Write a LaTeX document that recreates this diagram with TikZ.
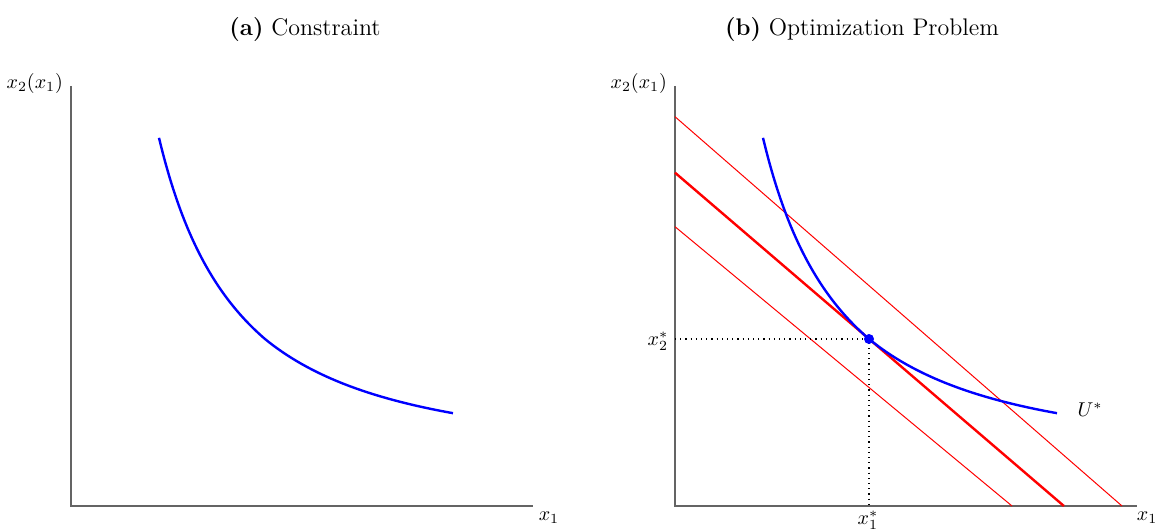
\documentclass[tikz,border=0pt]{standalone}
\usepackage{amsmath}
\usepackage{tikz}
\usepackage{xcolor}
\definecolor{axisgray}{RGB}{100,100,100}
\definecolor{utilblue}{RGB}{0,0,255}
\definecolor{budgetred}{RGB}{255,0,0}

\begin{document}
\begin{tikzpicture}[x=0.5pt, y=0.5pt]
\useasboundingbox (0,0) rectangle (1159,530);

% Panel titles
\node[font=\large] (titleA) at (305,500) {\textbf{(a)} Constraint};
\node[font=\large] (titleB) at (862,500) {\textbf{(b)} Optimization Problem};

% Left panel
\begin{scope}[shift={(71,24)}]
\coordinate (originA) at (0,0);
\coordinate (xendA) at (462,0);
\coordinate (yendA) at (0,420);
\draw[axisgray, line width=0.8pt] (yendA) -- (originA) -- (xendA);
\node[anchor=east] (ylabA) at (-1,422) {$x_2(x_1)$};
\node (xlabA) at (478,-12) {$x_1$};

% Indifference curve
\draw[utilblue, line width=1.2pt, samples=60]
  plot[domain=88:194] (\x,{323.98/(\x/100)})
  -- plot[domain=194:382] (\x,{323.98/(\x/100)+0.0426*(\x-194)});
\end{scope}

% Right panel
\begin{scope}[shift={(675,24)}]
\coordinate (originB) at (0,0);
\coordinate (xendB) at (462,0);
\coordinate (yendB) at (0,420);
\draw[axisgray, line width=0.8pt] (yendB) -- (originB) -- (xendB);
\node[anchor=east] (ylabB) at (-1,422) {$x_2(x_1)$};
\node (xlabB) at (472,-12) {$x_1$};

% Budget lines
\coordinate (upperA) at (0,389.3);
\coordinate (upperB) at (447,0);
\coordinate (midA) at (0,333.3);
\coordinate (midB) at (388.9,0);
\coordinate (lowerA) at (0,279.3);
\coordinate (lowerB) at (337,0);
\draw[budgetred, line width=0.5pt] (upperA) -- (upperB);
\draw[budgetred, line width=0.5pt] (lowerA) -- (lowerB);
\draw[budgetred, line width=1.2pt] (midA) -- (midB);

% Indifference curve
\draw[utilblue, line width=1.2pt, samples=60]
  plot[domain=88:194] (\x,{323.98/(\x/100)})
  -- plot[domain=194:382] (\x,{323.98/(\x/100)+0.0426*(\x-194)});
\node (ulab) at (415,96) {$U^{*}$};

% Optimum
\coordinate (opt) at (194,167);
\coordinate (xstar) at (194,0);
\coordinate (ystar) at (0,167);
\draw[dotted, line width=0.6pt] (ystar) -- (opt) -- (xstar);
\node[circle, fill=utilblue, inner sep=0pt, minimum size=5pt] (optdot) at (opt) {};
\node (xstarlab) at (193,-14) {$x_1^{*}$};
\node (ystarlab) at (-17,165) {$x_2^{*}$};
\end{scope}
\end{tikzpicture}
\end{document}
